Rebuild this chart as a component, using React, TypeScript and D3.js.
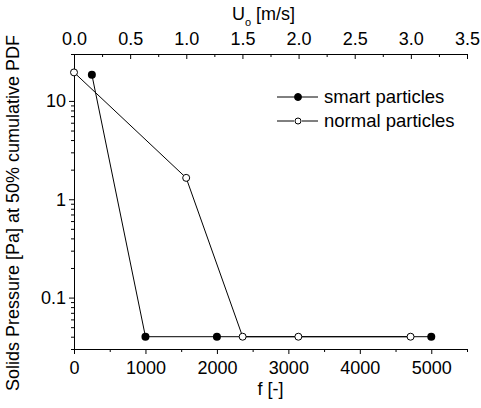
import React, { useEffect, useRef } from 'react';
import * as d3 from 'd3';

// smart particles (filled markers)
const smartF = [250, 1000, 2000, 5000];
const smartP = [18.5, 0.04, 0.04, 0.04];

// normal particles (open markers)
const normalF = [0, 1570, 2360, 3140, 4710];
const normalP = [19.5, 1.65, 0.04, 0.04, 0.04];

const bottomTicks = [0, 1000, 2000, 3000, 4000, 5000];
const topTicks = [0, 0.5, 1.0, 1.5, 2.0, 2.5, 3.0, 3.5];
const yMajor = [0.1, 1, 10];

const FONT = 'Liberation Sans, Arial, sans-serif';

const App = () => {
  const svgRef = useRef<SVGSVGElement>(null);

  useEffect(() => {
    const svg = d3.select(svgRef.current);
    svg.selectAll('*').remove();

    const left = 74, right = 467, top = 54, bottom = 349;

    const x = d3.scaleLinear().domain([0, 5500]).range([left, right]);
    const xTop = d3.scaleLinear().domain([0, 3.5]).range([left, right]);
    const y = d3.scaleLog().domain([0.03, 30]).range([bottom, top]);

    const styleAxis = (g: any) => {
      g.select('.domain').attr('stroke', '#000').attr('stroke-width', 1);
      g.selectAll('.tick line').attr('stroke', '#000');
      g.selectAll('.tick text')
        .attr('fill', '#000')
        .style('font-family', FONT)
        .style('font-size', '18px');
    };

    // bottom axis
    const bMinor = d3.range(500, 5501, 1000);
    svg.append('g')
      .attr('transform', `translate(0,${bottom})`)
      .call(d3.axisBottom(x).tickValues(bMinor).tickSize(3).tickSizeOuter(0).tickFormat(() => ''))
      .call(styleAxis);
    svg.append('g')
      .attr('transform', `translate(0,${bottom})`)
      .call(d3.axisBottom(x).tickValues(bottomTicks).tickSize(5).tickSizeOuter(0).tickPadding(7).tickFormat(d3.format('d')))
      .call(styleAxis);

    // top axis, ticks pointing into the plot
    const tMinor = d3.range(0.25, 3.5, 0.5);
    svg.append('g')
      .attr('transform', `translate(0,${top})`)
      .call(d3.axisTop(xTop).tickValues(tMinor).tickSize(-3).tickSizeOuter(0).tickFormat(() => ''))
      .call(styleAxis);
    svg.append('g')
      .attr('transform', `translate(0,${top})`)
      .call(d3.axisTop(xTop).tickValues(topTicks).tickSize(-5).tickSizeOuter(0).tickPadding(9).tickFormat(d3.format('.1f')))
      .call(styleAxis);

    // left log axis
    const yMinor: number[] = [];
    [0.01, 0.1, 1, 10].forEach(dec => {
      for (let k = 2; k <= 9; k++) {
        const v = dec * k;
        if (v >= 0.03 && v <= 30) yMinor.push(v);
      }
    });
    svg.append('g')
      .attr('transform', `translate(${left},0)`)
      .call(d3.axisLeft(y).tickValues(yMinor).tickSize(3).tickSizeOuter(0).tickFormat(() => ''))
      .call(styleAxis);
    svg.append('g')
      .attr('transform', `translate(${left},0)`)
      .call(d3.axisLeft(y).tickValues(yMajor).tickSize(5).tickSizeOuter(0).tickPadding(3).tickFormat((d: any) => String(d)))
      .call(styleAxis);

    // lines
    const line = d3.line<[number, number]>()
      .x(d => x(d[0]))
      .y(d => y(d[1]));

    const smart = smartF.map((f, i) => [f, smartP[i]] as [number, number]);
    const normal = normalF.map((f, i) => [f, normalP[i]] as [number, number]);

    svg.append('path').datum(smart)
      .attr('fill', 'none').attr('stroke', '#000').attr('stroke-width', 1)
      .attr('d', line);
    svg.append('path').datum(normal)
      .attr('fill', 'none').attr('stroke', '#000').attr('stroke-width', 1)
      .attr('d', line);

    svg.selectAll('.smart').data(smart).enter().append('circle')
      .attr('cx', d => x(d[0])).attr('cy', d => y(d[1]))
      .attr('r', 4).attr('fill', '#000');
    svg.selectAll('.normal').data(normal).enter().append('circle')
      .attr('cx', d => x(d[0])).attr('cy', d => y(d[1]))
      .attr('r', 3.5).attr('fill', '#fff').attr('stroke', '#000').attr('stroke-width', 1);

    // legend
    const legend = [
      { label: 'smart particles', filled: true, yy: 97 },
      { label: 'normal particles', filled: false, yy: 121 },
    ];
    legend.forEach(l => {
      svg.append('line').attr('x1', 277).attr('x2', 294).attr('y1', l.yy).attr('y2', l.yy)
        .attr('stroke', '#000');
      svg.append('line').attr('x1', 302).attr('x2', 318).attr('y1', l.yy).attr('y2', l.yy)
        .attr('stroke', '#000');
      svg.append('circle').attr('cx', 298).attr('cy', l.yy)
        .attr('r', l.filled ? 3.5 : 3)
        .attr('fill', l.filled ? '#000' : '#fff')
        .attr('stroke', '#000');
      svg.append('text').attr('x', 324).attr('y', l.yy).attr('dy', '0.35em')
        .style('font-family', FONT).style('font-size', '18.5px')
        .text(l.label);
    });

    // axis titles
    svg.append('text')
      .attr('x', (left + right) / 2).attr('y', 395)
      .attr('text-anchor', 'middle')
      .style('font-family', FONT).style('font-size', '18px')
      .text('f [-]');

    const ut = svg.append('text')
      .attr('x', (left + right) / 2 - 7).attr('y', 20)
      .attr('text-anchor', 'middle')
      .style('font-family', FONT).style('font-size', '18px');
    ut.append('tspan').text('U');
    ut.append('tspan').attr('dy', 6).style('font-size', '11px').text('o');
    ut.append('tspan').attr('dy', -6).text(' [m/s]');

    svg.append('text')
      .attr('transform', `translate(19,213) rotate(-90)`)
      .attr('text-anchor', 'middle')
      .style('font-family', FONT).style('font-size', '18px')
      .text('Solids Pressure [Pa] at 50% cumulative PDF');
  }, []);

  return (
    <svg ref={svgRef} width={481} height={408}
      style={{ position: 'absolute', left: 0, top: 0, background: '#fff' }} />
  );
};

export default App;
